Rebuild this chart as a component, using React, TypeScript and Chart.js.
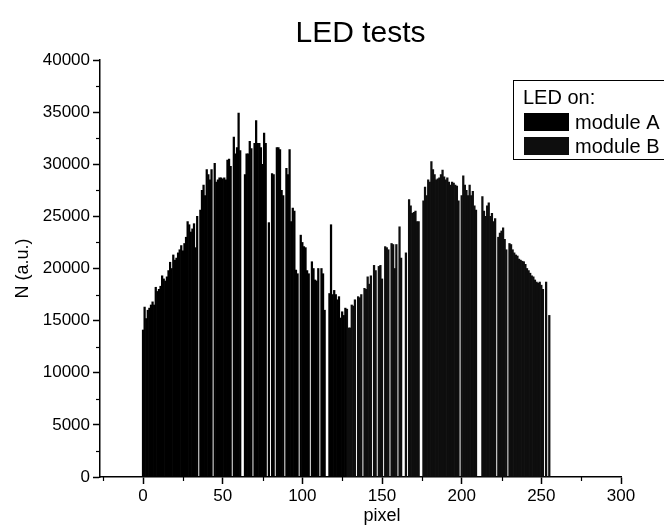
import React, { useEffect, useRef } from "react";
import { Chart, registerables } from "chart.js";

Chart.register(...registerables);

const FONT = "'Liberation Sans', Arial, Helvetica, sans-serif";

const TITLE = "LED tests";
const X_TITLE = "pixel";
const Y_TITLE = "N (a.u.)";
const LEGEND_TITLE = "LED on:";
const SERIES_NAMES = ["module A", "module B"];
const SERIES_COLORS = ["#000000", "#0e0e0e"];

const X_TICKS = [0, 50, 100, 150, 200, 250, 300];
const X_MINOR = [-25, 25, 75, 125, 175, 225, 275];
const Y_TICKS = [0, 5000, 10000, 15000, 20000, 25000, 30000, 35000, 40000];
const Y_MINOR = [2500, 7500, 12500, 17500, 22500, 27500, 32500, 37500];

// first pixel index of each module's readout
const START_A = 0;
const START_B = 128;

// counts per pixel, module A (pixels 0-127)
const moduleA = [
  14100, 16300, 15200, 16000, 16200, 16500, 16800, 16500, 18200, 17800,
  18000, 18300, 19300, 19000, 18800, 19200, 19800, 20600, 20000, 21300,
  20800, 21000, 21500, 21800, 22200, 21700, 22400, 23000, 24500, 24200,
  23500, 23800, 24300, 22000, 25000, 0, 25600, 27500, 28000, 27000,
  29500, 29000, 28500, 29500, 0, 30100, 28300, 28500, 28700, 28700,
  28600, 28700, 28500, 30400, 30500, 29800, 0, 32600, 31000, 31600,
  34900, 31300, 0, 0, 29000, 31000, 31000, 32200, 31500, 0,
  32000, 34200, 32000, 32000, 31600, 30000, 33000, 32000, 0, 24400,
  0, 29100, 29000, 0, 31600, 31600, 31400, 27500, 27000, 0,
  29600, 29000, 31400, 24500, 25800, 25500, 19850, 19500, 0, 23200,
  22500, 22100, 22000, 19800, 19500, 0, 20650, 20000, 18900, 18800,
  20000, 0, 20000, 19500, 16000, 0, 0, 17600, 24200, 17500,
  17900, 17500, 17000, 17300, 15250, 15850, 15500, 16200,
];

// counts per pixel, module B (pixels 128-255)
const moduleB = [
  16100, 14300,
  14300, 16500, 16400, 17000, 0, 17300, 17200, 17500, 0, 18100,
  18000, 19200, 18500, 19300, 0, 20300, 19800, 0, 20200, 20300,
  19000, 0, 22100, 22000, 21800, 0, 22400, 22300, 20000, 22300,
  0, 24000, 21000, 0, 0, 21500, 0, 26600, 26000, 25300,
  25400, 25500, 24500, 24500, 0, 0, 26500, 27800, 27000, 28500,
  28300, 30250, 29500, 29000, 28500, 28600, 28700, 29000, 29450, 28800,
  28500, 28700, 28300, 28000, 28300, 28200, 28000, 27900, 26500, 0,
  27000, 28900, 28000, 27500, 27000, 28000, 27000, 27400, 26000, 25600,
  0, 0, 0, 26900, 25500, 25000, 26000, 26300, 25000, 25300,
  24500, 24800, 0, 23000, 23400, 23600, 23900, 22800, 21800, 0,
  22400, 22300, 21800, 21500, 21300, 21200, 20900, 20800, 20700, 20650,
  20400, 20000, 19800, 19550, 19300, 19200, 18900, 18700, 18600, 18700,
  18400, 18000, 0, 18700, 0, 15500,
];

const toPoints = (vals: number[], start: number) =>
  vals.map((v, i) => ({ x: start + i, y: v }));

const overlay = {
  id: "overlay",
  afterDraw(chart: any) {
    const ctx = chart.ctx as CanvasRenderingContext2D;
    const { chartArea, scales } = chart;
    ctx.save();
    ctx.strokeStyle = "#000";
    ctx.lineWidth = 1.2;
    X_MINOR.forEach((v) => {
      const px = Math.round(scales.x.getPixelForValue(v)) + 0.5;
      ctx.beginPath();
      ctx.moveTo(px, chartArea.bottom);
      ctx.lineTo(px, chartArea.bottom + 4);
      ctx.stroke();
    });
    Y_MINOR.forEach((v) => {
      const py = Math.round(scales.y.getPixelForValue(v)) + 0.5;
      ctx.beginPath();
      ctx.moveTo(chartArea.left, py);
      ctx.lineTo(chartArea.left - 4, py);
      ctx.stroke();
    });

    ctx.fillStyle = "#000";
    ctx.textBaseline = "alphabetic";
    ctx.textAlign = "center";
    ctx.font = `30px ${FONT}`;
    ctx.fillText(TITLE, (chartArea.left + chartArea.right) / 2, 42);

    ctx.font = `18px ${FONT}`;
    ctx.fillText(X_TITLE, scales.x.getPixelForValue(150), 521);

    ctx.save();
    ctx.translate(28, (chartArea.top + chartArea.bottom) / 2);
    ctx.rotate(-Math.PI / 2);
    ctx.fillText(Y_TITLE, 0, 0);
    ctx.restore();

    // legend box
    ctx.lineWidth = 1;
    ctx.strokeStyle = "#000";
    ctx.strokeRect(513.5, 80.5, 170, 79);
    ctx.textAlign = "left";
    ctx.font = `20px ${FONT}`;
    ctx.fillText(LEGEND_TITLE, 523, 104);
    SERIES_NAMES.forEach((name, i) => {
      const top = 113 + i * 24;
      ctx.fillStyle = SERIES_COLORS[i];
      ctx.fillRect(524, top, 45, 18);
      ctx.fillStyle = "#000";
      ctx.fillText(name, 575, top + 16);
    });
    ctx.restore();
  },
};

export default function App() {
  const ref = useRef<HTMLCanvasElement | null>(null);
  useEffect(() => {
    if (!ref.current) return;
    const tickFont = { family: FONT, size: 17 };
    const chart = new Chart(ref.current, {
      type: "bar",
      data: {
        datasets: [
          {
            label: SERIES_NAMES[0],
            data: toPoints(moduleA, START_A),
            backgroundColor: SERIES_COLORS[0],
            borderWidth: 0,
            barPercentage: 1,
            categoryPercentage: 1,
            grouped: false,
          },
          {
            label: SERIES_NAMES[1],
            data: toPoints(moduleB, START_B),
            backgroundColor: SERIES_COLORS[1],
            borderWidth: 0,
            barPercentage: 1,
            categoryPercentage: 1,
            grouped: false,
          },
        ] as any,
      },
      options: {
        animation: false,
        responsive: false,
        devicePixelRatio: 1,
        layout: { padding: { top: 60, right: 43, left: 0, bottom: 0 } },
        plugins: {
          legend: { display: false },
          title: { display: false },
          tooltip: { enabled: false },
        },
        scales: {
          x: {
            type: "linear",
            min: -27,
            max: 300,
            offset: false,
            afterBuildTicks: (s: any) => {
              s.ticks = X_TICKS.map((v) => ({ value: v }));
            },
            afterFit: (s: any) => {
              s.height = 51;
            },
            ticks: {
              color: "#000",
              font: tickFont,
              padding: 2,
              maxRotation: 0,
              autoSkip: false,
              callback: (v: any) => String(v),
            },
            grid: {
              display: true,
              offset: false,
              drawOnChartArea: false,
              drawTicks: true,
              tickLength: 7,
              tickColor: "#000",
              tickWidth: 1.5,
            },
            border: { display: true, color: "#000", width: 1.5 },
          },
          y: {
            type: "linear",
            min: 0,
            max: 40000,
            afterBuildTicks: (s: any) => {
              s.ticks = Y_TICKS.map((v) => ({ value: v }));
            },
            afterFit: (s: any) => {
              s.width = 100;
            },
            ticks: {
              color: "#000",
              font: tickFont,
              padding: 3,
              autoSkip: false,
              callback: (v: any) => String(v),
            },
            grid: {
              display: true,
              offset: false,
              drawOnChartArea: false,
              drawTicks: true,
              tickLength: 7,
              tickColor: "#000",
              tickWidth: 1.5,
            },
            border: { display: true, color: "#000", width: 1.5 },
          },
        },
      } as any,
      plugins: [overlay],
    });
    return () => chart.destroy();
  }, []);
  return (
    <div style={{ position: "absolute", left: 0, top: 0, width: 664, height: 528, background: "#fff" }}>
      <canvas ref={ref} width={664} height={528} />
    </div>
  );
}
